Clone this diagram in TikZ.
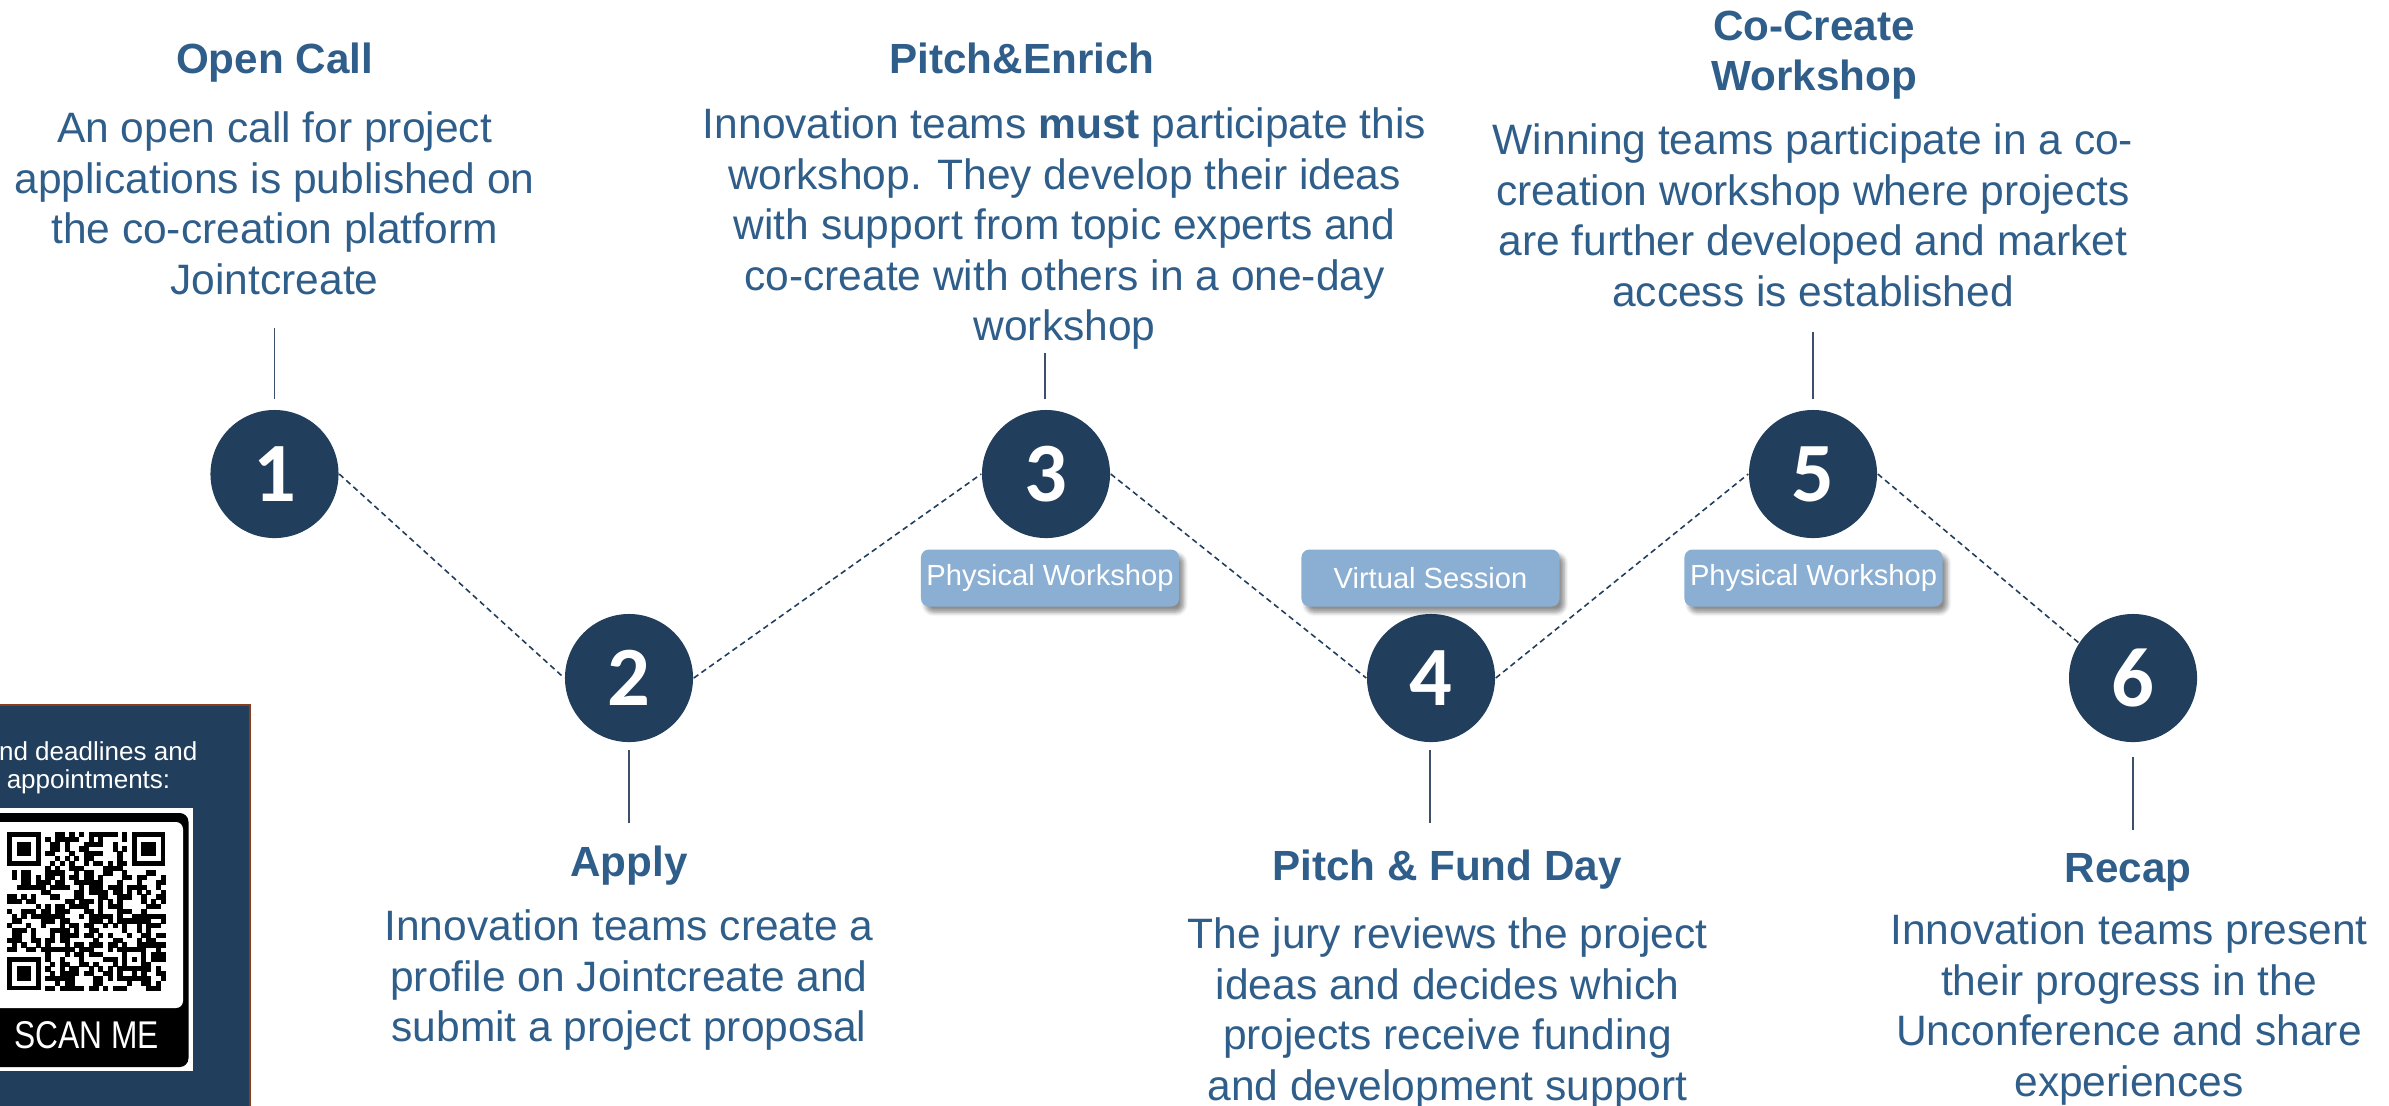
\documentclass[tikz,border=0pt]{standalone}
\usepackage{graphicx}
\usepackage{fontspec}
\setmainfont{Liberation Sans}
\newfontfamily\numfont{Carlito}
\usetikzlibrary{shadows.blur,calc}
\definecolor{navy}{RGB}{33,62,92}
\definecolor{txtblue}{RGB}{47,94,138}
\definecolor{tagblue}{RGB}{138,175,211}
\definecolor{vlinecol}{RGB}{60,80,105}
\definecolor{qrborder}{RGB}{140,60,30}
\newcommand{\bodyfont}{\fontsize{12.09pt}{14.37pt}\selectfont}
\newcommand{\titlefont}{\fontsize{12pt}{14.2pt}\selectfont\bfseries}
\begin{document}
\begin{tikzpicture}[x=0.01cm,y=-0.01cm,
  stepcircle/.style={circle, fill=navy, minimum size=1.28cm, inner sep=0pt, text=white,
    font=\numfont\bfseries\fontsize{24pt}{28pt}\selectfont},
  title/.style={text=txtblue, font=\titlefont, inner sep=0pt, anchor=base},
  body/.style={text=txtblue, font=\bodyfont, align=center, inner sep=0pt, anchor=north},
  tag/.style={fill=tagblue, text=white, rounded corners=2.3pt, minimum width=2.58cm,
    minimum height=0.57cm, inner sep=0pt, font=\fontsize{8.28pt}{10pt}\selectfont,
    blur shadow={shadow xshift=1.3pt, shadow yshift=-1.6pt, shadow blur steps=6,
      shadow opacity=45, shadow blur radius=1.2pt}},
  conn/.style={navy, dash pattern=on 1.6pt off 1.1pt, line width=0.45pt},
  vconn/.style={vlinecol, line width=0.45pt},
  qrtext/.style={text=white, inner sep=0pt, font=\fontsize{7.4pt}{9pt}\selectfont}
]
\useasboundingbox (0,0) rectangle (2389,1105);

% ---------- QR box ----------
\draw[qrborder, line width=0.6pt, fill=navy] (-20,705) rectangle (250,1140);
\node[qrtext, anchor=base east] (qrt1) at (198,760) {nd deadlines and};
\node[qrtext, anchor=base] (qrt2) at (88.5,788) {appointments:};
\fill[white] (-22,808) rectangle (193,1071);
\fill[black, rounded corners=2.5pt] (-17,813) rectangle (188.5,1067);
\fill[white, rounded corners=2pt] (-12,822) rectangle (183,1008);
\def\qx{7}\def\qy{832}\def\qm{4.8}
\pgfmathsetseed{1234}
\foreach \i in {0,...,32}{
  \foreach \j in {0,...,32}{
    \pgfmathtruncatemacro{\inf}{((\i<8)&&(\j<8)) || ((\i>24)&&(\j<8)) || ((\i<8)&&(\j>24)) || ((\i>23)&&(\i<29)&&(\j>23)&&(\j<29)) ? 1 : 0}
    \pgfmathrandominteger{\rr}{0}{1}
    \ifnum\inf=0 \ifnum\rr=1
      \fill[black] (\qx+\i*\qm,\qy+\j*\qm) rectangle ++(\qm+0.4,\qm+0.4);
    \fi\fi
  }
}
\foreach \a/\b in {0/0,26/0,0/26}{
  \fill[black] (\qx+\a*\qm,\qy+\b*\qm) rectangle ++(7*\qm,7*\qm);
  \fill[white] (\qx+\a*\qm+\qm,\qy+\b*\qm+\qm) rectangle ++(5*\qm,5*\qm);
  \fill[black] (\qx+\a*\qm+2*\qm,\qy+\b*\qm+2*\qm) rectangle ++(3*\qm,3*\qm);
}
\fill[black] (\qx+24*\qm,\qy+24*\qm) rectangle ++(5*\qm,5*\qm);
\fill[white] (\qx+25*\qm,\qy+25*\qm) rectangle ++(3*\qm,3*\qm);
\fill[black] (\qx+26*\qm,\qy+26*\qm) rectangle ++(\qm,\qm);
\node[text=white, inner sep=0pt, font=\fontsize{11pt}{12pt}\selectfont, anchor=base] (scan) at (86.5,1048) {\scalebox{0.82}[1]{SCAN ME}};

% ---------- circles ----------
\node[stepcircle] (c1) at (274.5,474) {1};
\node[stepcircle] (c2) at (629,678) {2};
\node[stepcircle] (c3) at (1046,474) {3};
\node[stepcircle] (c4) at (1431,678) {4};
\node[stepcircle] (c5) at (1813,474) {5};
\node[stepcircle] (c6) at (2133,678) {6};

% ---------- dashed connectors ----------
\draw[conn] (c1.east) -- (c2.west);
\draw[conn] (c2.east) -- (c3.west);
\draw[conn] (c3.east) -- (c4.west);
\draw[conn] (c4.east) -- (c5.west);
\draw[conn] (c5.east) -- (c6.147);

% ---------- tags ----------
\node[tag] (t3) at (1050,578) {Physical Workshop};
\node[tag] (t4) at (1430.5,578) {Virtual Session};
\node[tag] (t5) at (1813.5,578) {Physical Workshop};

% ---------- titles ----------
\node[title] (h1) at (274.5,73) {Open Call};
\node[title] (h3) at (1022,73) {Pitch\&Enrich};
\node[title, align=center, anchor=north] (h5) at (1814,5) {\strut Co-Create\\Workshop};
\node[title] (h2) at (629,876) {Apply};
\node[title] (h4) at (1447,880) {Pitch \& Fund Day};
\node[title] (h6) at (2128,882) {Recap};

% ---------- bodies ----------
\node[body] (b1) at (274.5,106.6) {\strut An open call for project\\applications is published on\\the co-creation platform\\Jointcreate};
\node[body] (b3) at (1064.5,102.6) {\strut Innovation teams \textbf{must} participate this\\workshop. They develop their ideas\\with support from topic experts and\\co-create with others in a one-day\\workshop};
\node[body] (b5) at (1813,118.6) {\strut Winning teams participate in a co-\\creation workshop where projects\\are further developed and market\\access is established};
\node[body] (b2) at (629,904.6) {\strut Innovation teams create a\\profile on Jointcreate and\\submit a project proposal};
\node[body] (b4) at (1447.5,912.6) {\strut The jury reviews the project\\ideas and decides which\\projects receive funding\\and development support};
\node[body] (b6) at (2129,908.6) {\strut Innovation teams present\\their progress in the\\Unconference and share\\experiences};

% ---------- vertical connectors ----------
\coordinate (v1a) at (274.5,328); \coordinate (v1b) at (274.5,399);
\coordinate (v3a) at (1045,353);  \coordinate (v3b) at (1045,399);
\coordinate (v5a) at (1813,332);  \coordinate (v5b) at (1813,399);
\coordinate (v2a) at (629,750);   \coordinate (v2b) at (629,823);
\coordinate (v4a) at (1430,750);  \coordinate (v4b) at (1430,823);
\coordinate (v6a) at (2133,757);  \coordinate (v6b) at (2133,830);
\draw[vconn] (v1a) -- (v1b);
\draw[vconn] (v3a) -- (v3b);
\draw[vconn] (v5a) -- (v5b);
\draw[vconn] (v2a) -- (v2b);
\draw[vconn] (v4a) -- (v4b);
\draw[vconn] (v6a) -- (v6b);
\end{tikzpicture}
\end{document}
